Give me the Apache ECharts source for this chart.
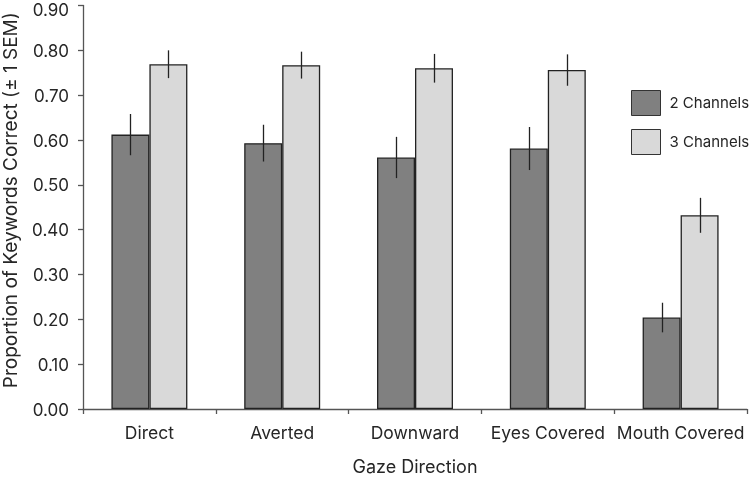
<!DOCTYPE html>
<html>
<head>
<meta charset="utf-8">
<script src="https://cdn.jsdelivr.net/npm/echarts@6/dist/echarts.min.js"></script>
<style>html,body{margin:0;padding:0;background:#fff}#c{width:750px;height:484px}</style>
</head>
<body>
<div id="c"></div>
<script>
var categories = ['Direct', 'Averted', 'Downward', 'Eyes Covered', 'Mouth Covered'];
var seriesNames = ['2 Channels', '3 Channels'];
var values2 = [0.612, 0.593, 0.561, 0.581, 0.204];
var values3 = [0.769, 0.767, 0.760, 0.756, 0.432];
var sem2 = [0.046, 0.041, 0.046, 0.048, 0.033];
var sem3 = [0.031, 0.030, 0.032, 0.035, 0.039];
var yTicks = [0, 0.1, 0.2, 0.3, 0.4, 0.5, 0.6, 0.7, 0.8, 0.9];

var FONT = 'Inter';
var TXT = '#262626';
var BAR_FRAC = 0.286;

function errData(vals, sems) {
  return vals.map(function (v, i) { return [i, v - sems[i], v + sems[i]]; });
}
function errSeries(name, vals, sems, side) {
  return {
    type: 'custom',
    name: name + ' err',
    data: errData(vals, sems),
    z: 10,
    silent: true,
    renderItem: function (params, api) {
      var cw = api.size([1, 0])[0];
      var off = side * cw * BAR_FRAC / 2;
      var lo = api.coord([api.value(0), api.value(1)]);
      var hi = api.coord([api.value(0), api.value(2)]);
      var x = Math.round(lo[0] + off) + 0.5;
      return {
        type: 'line',
        shape: { x1: x, y1: lo[1], x2: x, y2: hi[1] },
        style: { stroke: '#222', lineWidth: 1.3 }
      };
    }
  };
}

var chart = echarts.init(document.getElementById('c'), null, { renderer: 'canvas' });
chart.setOption({
  animation: false,
  textStyle: { fontFamily: FONT },
  grid: { left: 83, right: 3, top: 5.5, bottom: 75, containLabel: false, outerBoundsMode: 'none' },
  legend: {
    data: seriesNames,
    orient: 'vertical',
    left: 631, top: 90,
    padding: 0,
    itemWidth: 29, itemHeight: 25, itemGap: 13,
    itemStyle: { borderColor: '#333', borderWidth: 1 },
    textStyle: { fontFamily: FONT, fontSize: 15, color: TXT, padding: [0, 0, 0, 4] },
    icon: 'rect'
  },
  xAxis: {
    type: 'category',
    data: categories,
    name: 'Gaze Direction',
    nameLocation: 'middle',
    nameGap: 50,
    nameTextStyle: { fontSize: 18, color: TXT, fontFamily: FONT },
    axisLine: { lineStyle: { color: '#555', width: 1.3 } },
    axisTick: { show: true, length: 5, alignWithLabel: false, lineStyle: { color: '#555', width: 1.3 } },
    axisLabel: { fontSize: 17.5, color: TXT, margin: 16, fontFamily: FONT, interval: 0 }
  },
  yAxis: {
    type: 'value',
    min: 0, max: 0.9, interval: 0.1,
    name: 'Proportion of Keywords Correct (\u00b1 1 SEM)',
    nameLocation: 'middle',
    nameGap: 61,
    nameTextStyle: { fontSize: 19, color: TXT, fontFamily: FONT, padding: [0, 0, 0, 14] },
    axisLine: { show: true, lineStyle: { color: '#555', width: 1.3 } },
    axisTick: { show: true, length: 5, lineStyle: { color: '#555', width: 1.3 } },
    splitLine: { show: false },
    axisLabel: {
      fontSize: 17, color: TXT, margin: 14, fontFamily: FONT,
      formatter: function (v) {
        var s = v.toFixed(2);
        return Math.abs(v - yTicks[yTicks.length - 1]) < 1e-9 ? '{t|' + s + '}' : '{n|' + s + '}';
      },
      rich: {
        t: { fontSize: 17, color: TXT, fontFamily: FONT, padding: [10, 0, 0, 0] },
        n: { fontSize: 17, color: TXT, fontFamily: FONT, padding: [3, 0, 0, 0] }
      }
    }
  },
  series: [
    {
      type: 'bar', name: seriesNames[0], data: values2,
      barWidth: (BAR_FRAC * 100) + '%', barGap: '0%',
      itemStyle: { color: '#808080', borderColor: '#222', borderWidth: 1.3 }
    },
    {
      type: 'bar', name: seriesNames[1], data: values3,
      barWidth: (BAR_FRAC * 100) + '%', barGap: '0%',
      itemStyle: { color: '#d9d9d9', borderColor: '#222', borderWidth: 1.3 }
    },
    errSeries(seriesNames[0], values2, sem2, -1),
    errSeries(seriesNames[1], values3, sem3, 1)
  ]
});
</script>
</body>
</html>
